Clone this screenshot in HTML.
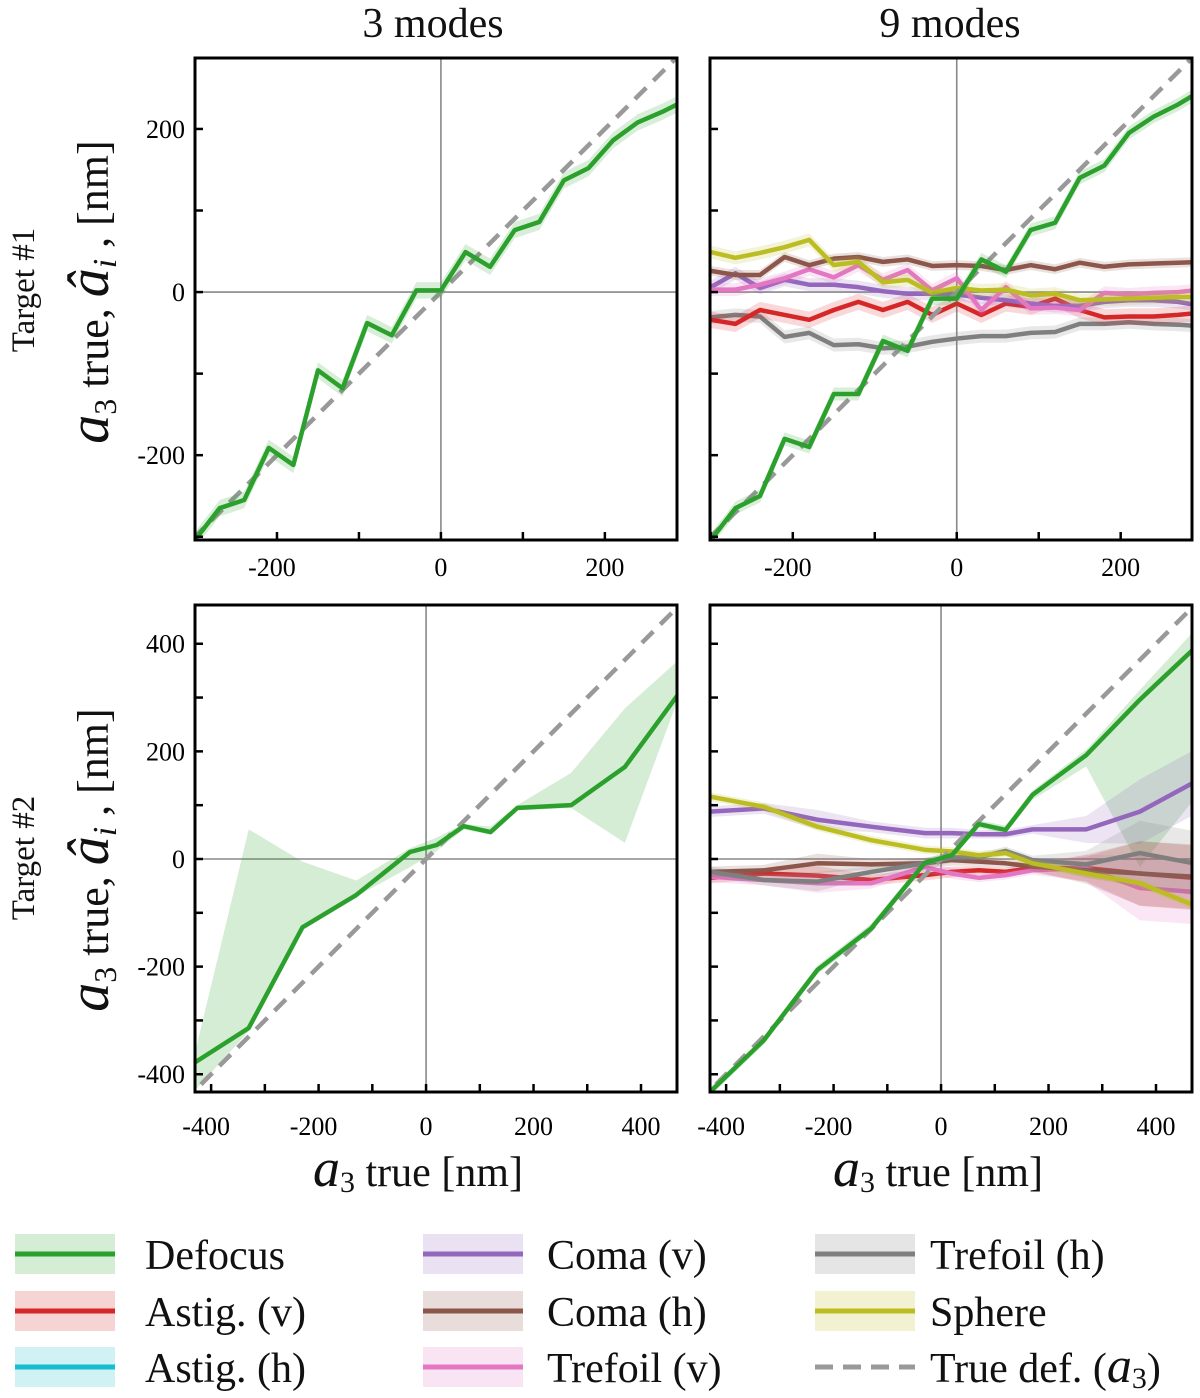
<!DOCTYPE html>
<html><head><meta charset="utf-8"><style>
body{margin:0;background:#fff;}
svg{display:block;font-family:"Liberation Serif",serif;}
</style></head><body>
<svg id="fig" width="1200" height="1398" viewBox="0 0 1200 1398"></svg>
<script>
const NS="http://www.w3.org/2000/svg";
const svg=document.getElementById('fig');
const COL={defocus:"#2ca02c",astv:"#d62728",asth:"#17becf",comav:"#9467bd",comah:"#8c564b",trefv:"#e377c2",trefh:"#7f7f7f",sphere:"#bcbd22"};
// ---- data: top panels (Target #1)
const xTop=[-300,-270,-240,-210,-180,-150,-120,-90,-60,-30,0,30,60,90,120,150,180,210,240,270,300];
const tl_defocus=[-304,-265,-255,-191,-212,-96,-118,-38,-53,2,2,49,31,76,86,137,152,186,208,221,236];
const tr_defocus=[-304,-265,-250,-180,-190,-125,-125,-60,-72,-8,-8,40,25,76,85,140,155,195,215,230,248];
const tr_sphere=[49,42,48,55,64,33,37,12,15,-1,5,2,3,-4,-2,-10,-9,-8,-7,-6,-6];
const tr_comah=[26,21,21,43,33,41,43,37,40,32,33,32,27,33,28,36,31,34,35,36,37];
const tr_trefv=[3,3,9,17,28,18,33,15,27,2,17,-22,6,-20,-19,-22,-1,-3,-1,0,3];
const tr_comav=[6,23,5,15,9,9,6,1,-2,-2,-3,-7,-10,-14,-17,-17,-12,-10,-10,-12,-17];
const tr_astv=[-34,-39,-22,-28,-34,-22,-12,-22,-12,-28,-14,-28,-14,-18,-8,-22,-31,-30,-30,-28,-25];
const tr_trefh=[-31,-28,-30,-55,-50,-65,-64,-69,-67,-61,-57,-54,-54,-50,-49,-39,-39,-37,-39,-40,-42];
// ---- data: bottom panels (Target #2)
const xBot=[-430,-330,-230,-130,-30,20,70,120,170,270,370,470];
const bl_defocus=[-378,-314,-127,-67,13,26,61,50,95,100,171,307];
const bl_hi=[-360,55,-5,-40,20,40,65,60,100,160,280,370];
const bl_lo=[-430,-320,-130,-70,-15,15,55,45,90,95,30,300];
const br_defocus=[-433,-337,-206,-129,-7,7,65,54,119,193,296,390];
const br_hi=[-425,-330,-198,-120,0,14,72,62,127,203,314,423];
const br_lo=[-440,-345,-214,-137,-14,0,58,47,110,172,-15,110];
const br_comav=[88,94,73,60,48,48,46,46,55,55,88,142];
const br_sphere=[116,97,60,35,17,14,7,11,-8,-27,-45,-86];
const br_astv=[-35,-27,-31,-39,-30,-24,-21,-24,-17,-17,-27,-35];
const br_trefv=[-33,-39,-45,-45,-15,-27,-35,-30,-21,-17,-54,-61];
const br_comah=[-24,-21,-8,-10,-8,-2,-5,-8,-14,-21,-27,-33];
const br_trefh=[-24,-39,-42,-24,-8,3,3,15,-2,-10,11,-8];
const br_spread=[10,10,18,10,10,10,8,8,8,25,60,60];
const topTicks=[-200,0,200];
const botTicks=[-400,-200,0,200,400];

function el(tag,attrs,parent){const e=document.createElementNS(NS,tag);for(const k in attrs)e.setAttribute(k,attrs[k]);(parent||svg).appendChild(e);return e;}

function panel(name,x0,y0,w,h,xmin,xmax,ymin,ymax){
  const g=el('g',{});
  
  
  const cp=el('clipPath',{id:'cp-'+name},g);el('rect',{x:x0,y:y0,width:w,height:h},cp);
  const sx=v=>x0+(v-xmin)/(xmax-xmin)*w, sy=v=>y0+h-(v-ymin)/(ymax-ymin)*h;
  const inner=el('g',{'clip-path':'url(#cp-'+name+')'},g);
  return {g,inner,sx,sy,x0,y0,w,h,xmin,xmax,ymin,ymax};
}
function zeroLines(p){
  const a=el('line',{x1:p.sx(0),x2:p.sx(0),y1:p.y0,y2:p.y0+p.h,stroke:'#888','stroke-width':1.6},p.inner);
  
  const b=el('line',{x1:p.x0,x2:p.x0+p.w,y1:p.sy(0),y2:p.sy(0),stroke:'#888','stroke-width':1.6},p.inner);
  
}
function band(p,xs,lo,hi,color,op,name){
  let d='';xs.forEach((x,i)=>{d+=(i?'L':'M')+p.sx(x)+','+p.sy(hi[i]);});
  for(let i=xs.length-1;i>=0;i--)d+='L'+p.sx(xs[i])+','+p.sy(lo[i]);
  const e=el('path',{d:d+'Z',fill:color,'fill-opacity':op,stroke:'none'},p.inner);
  
}
function line(p,xs,ys,color,name,sw){
  const pts=xs.map((x,i)=>p.sx(x)+','+p.sy(ys[i])).join(' ');
  const e=el('polyline',{points:pts,fill:'none',stroke:color,'stroke-width':sw||4.5,'stroke-linejoin':'round'},p.inner);
  
}
function series(p,xs,ys,color,name,sp){
  const s=Array.isArray(sp)?sp:xs.map(()=>sp);
  band(p,xs,ys.map((v,i)=>v-s[i]),ys.map((v,i)=>v+s[i]),color,0.18,name);
  line(p,xs,ys,color,name);
}
function diag(p){
  const e=el('line',{x1:p.sx(-1000),y1:p.sy(-1000),x2:p.sx(1000),y2:p.sy(1000),stroke:'#999','stroke-width':4.5,'stroke-dasharray':'16,10'},p.inner);
  
}
function frame(p,xlabels,ylabels,xt,yt,xdy){
  for(let v=Math.ceil(p.xmin/100)*100;v<=p.xmax;v+=100){const t=el('line',{x1:p.sx(v),x2:p.sx(v),y1:p.y0+p.h,y2:p.y0+p.h-8,stroke:'#000','stroke-width':2.5},p.g);}
  for(let v=Math.ceil(p.ymin/100)*100;v<=p.ymax;v+=100){const t=el('line',{x1:p.x0,x2:p.x0+8,y1:p.sy(v),y2:p.sy(v),stroke:'#000','stroke-width':2.5},p.g);}
  const r=el('rect',{x:p.x0,y:p.y0,width:p.w,height:p.h,fill:'none',stroke:'#000','stroke-width':3},p.g);
  
  xt.forEach(v=>{const t=el('text',{x:p.sx(v)-(v<0?5:0),y:p.y0+p.h+xdy,'text-anchor':'middle','font-size':26},p.g);t.textContent=v;});
  if(ylabels)yt.forEach(v=>{const t=el('text',{x:p.x0-10,y:p.sy(v)+9,'text-anchor':'end','font-size':26},p.g);t.textContent=v;});
}
// Top-left
let p=panel('panel-target1-3modes',195,58,482,482,-300,288,-304,287);
zeroLines(p);diag(p);series(p,xTop,tl_defocus,COL.defocus,'defocus',10);
frame(p,true,true,topTicks,[-200,0,200],36);
// Top-right
p=panel('panel-target1-9modes',710,58,482,482,-301,287,-304,287);
zeroLines(p);
series(p,xTop,tr_trefh,COL.trefh,'trefoil-h',8);
series(p,xTop,tr_astv,COL.astv,'astig-v',10);
series(p,xTop,tr_comav,COL.comav,'coma-v',8);
series(p,xTop,tr_trefv,COL.trefv,'trefoil-v',8);
series(p,xTop,tr_comah,COL.comah,'coma-h',6);
series(p,xTop,tr_sphere,COL.sphere,'sphere',8);
diag(p);series(p,xTop,tr_defocus,COL.defocus,'defocus',8);
frame(p,true,false,topTicks,[],36);
// Bottom-left
p=panel('panel-target2-3modes',195,605,482,487,-430,467,-433,472);
zeroLines(p);band(p,xBot,bl_lo,bl_hi,COL.defocus,0.2,'defocus');diag(p);line(p,xBot,bl_defocus,COL.defocus,'defocus');
frame(p,true,true,botTicks,[-400,-200,0,200,400],43);
// Bottom-right
p=panel('panel-target2-9modes',710,605,482,487,-430,467,-433,472);
zeroLines(p);
band(p,xBot,br_lo,br_hi,COL.defocus,0.2,'defocus');
series(p,xBot,br_comav,COL.comav,'coma-v',br_spread);
series(p,xBot,br_astv,COL.astv,'astig-v',br_spread);
series(p,xBot,br_trefv,COL.trefv,'trefoil-v',br_spread);
series(p,xBot,br_comah,COL.comah,'coma-h',br_spread);
series(p,xBot,br_trefh,COL.trefh,'trefoil-h',br_spread);
series(p,xBot,br_sphere,COL.sphere,'sphere',8);
diag(p);line(p,xBot,br_defocus,COL.defocus,'defocus');
frame(p,true,false,botTicks,[],43);
</script>
<svg style="position:absolute;left:0;top:0" width="1200" height="1398">
<g font-family="Liberation Serif, serif" fill="#111">
<text x="433" y="37" text-anchor="middle" font-size="42">3 modes</text>
<text x="950" y="37" text-anchor="middle" font-size="42">9 modes</text>
<text transform="translate(34,290) rotate(-90)" text-anchor="middle" font-size="33">Target #1</text>
<text transform="translate(34,858) rotate(-90)" text-anchor="middle" font-size="33">Target #2</text>
<text transform="translate(108,292) rotate(-90)" text-anchor="middle" font-size="44"><tspan font-style="italic" font-size="58">a</tspan><tspan font-size="32" dy="8">3</tspan><tspan dy="-8"> true, </tspan><tspan font-style="italic" font-size="58">â</tspan><tspan font-style="italic" font-size="34" dy="8">i</tspan><tspan dy="-8"> , [nm]</tspan></text>
<text transform="translate(108,860) rotate(-90)" text-anchor="middle" font-size="44"><tspan font-style="italic" font-size="58">a</tspan><tspan font-size="32" dy="8">3</tspan><tspan dy="-8"> true, </tspan><tspan font-style="italic" font-size="58">â</tspan><tspan font-style="italic" font-size="34" dy="8">i</tspan><tspan dy="-8"> , [nm]</tspan></text>
<text x="418" y="1186" text-anchor="middle" font-size="42"><tspan font-style="italic" font-size="54">a</tspan><tspan font-size="30" dy="6">3</tspan><tspan dy="-6"> true [nm]</tspan></text>
<text x="938" y="1186" text-anchor="middle" font-size="42"><tspan font-style="italic" font-size="54">a</tspan><tspan font-size="30" dy="6">3</tspan><tspan dy="-6"> true [nm]</tspan></text>
</g>
<g font-family="Liberation Serif, serif" font-size="42" fill="#111">
<g><rect x="15" y="1234" width="100" height="40" fill="#2ca02c" fill-opacity="0.2"/><line x1="15" x2="115" y1="1254" y2="1254" stroke="#2ca02c" stroke-width="5"/><text x="145" y="1269">Defocus</text></g>
<g><rect x="15" y="1291" width="100" height="40" fill="#d62728" fill-opacity="0.2"/><line x1="15" x2="115" y1="1311" y2="1311" stroke="#d62728" stroke-width="5"/><text x="145" y="1326">Astig. (v)</text></g>
<g><rect x="15" y="1347" width="100" height="40" fill="#17becf" fill-opacity="0.2"/><line x1="15" x2="115" y1="1367" y2="1367" stroke="#17becf" stroke-width="5"/><text x="145" y="1382">Astig. (h)</text></g>
<g><rect x="423" y="1234" width="100" height="40" fill="#9467bd" fill-opacity="0.2"/><line x1="423" x2="523" y1="1254" y2="1254" stroke="#9467bd" stroke-width="5"/><text x="547" y="1269">Coma (v)</text></g>
<g><rect x="423" y="1291" width="100" height="40" fill="#8c564b" fill-opacity="0.2"/><line x1="423" x2="523" y1="1311" y2="1311" stroke="#8c564b" stroke-width="5"/><text x="547" y="1326">Coma (h)</text></g>
<g><rect x="423" y="1347" width="100" height="40" fill="#e377c2" fill-opacity="0.2"/><line x1="423" x2="523" y1="1367" y2="1367" stroke="#e377c2" stroke-width="5"/><text x="547" y="1382">Trefoil (v)</text></g>
<g><rect x="815" y="1234" width="100" height="40" fill="#7f7f7f" fill-opacity="0.2"/><line x1="815" x2="915" y1="1254" y2="1254" stroke="#7f7f7f" stroke-width="5"/><text x="930" y="1269">Trefoil (h)</text></g>
<g><rect x="815" y="1291" width="100" height="40" fill="#bcbd22" fill-opacity="0.2"/><line x1="815" x2="915" y1="1311" y2="1311" stroke="#bcbd22" stroke-width="5"/><text x="930" y="1326">Sphere</text></g>
<g><line x1="815" x2="915" y1="1367" y2="1367" stroke="#999" stroke-width="5" stroke-dasharray="18,10"/><text x="930" y="1382">True def. (<tspan font-style="italic" font-size="50">a</tspan><tspan font-size="30" dy="6">3</tspan><tspan dy="-6">)</tspan></text></g>
</g>
</svg>
</body></html>
